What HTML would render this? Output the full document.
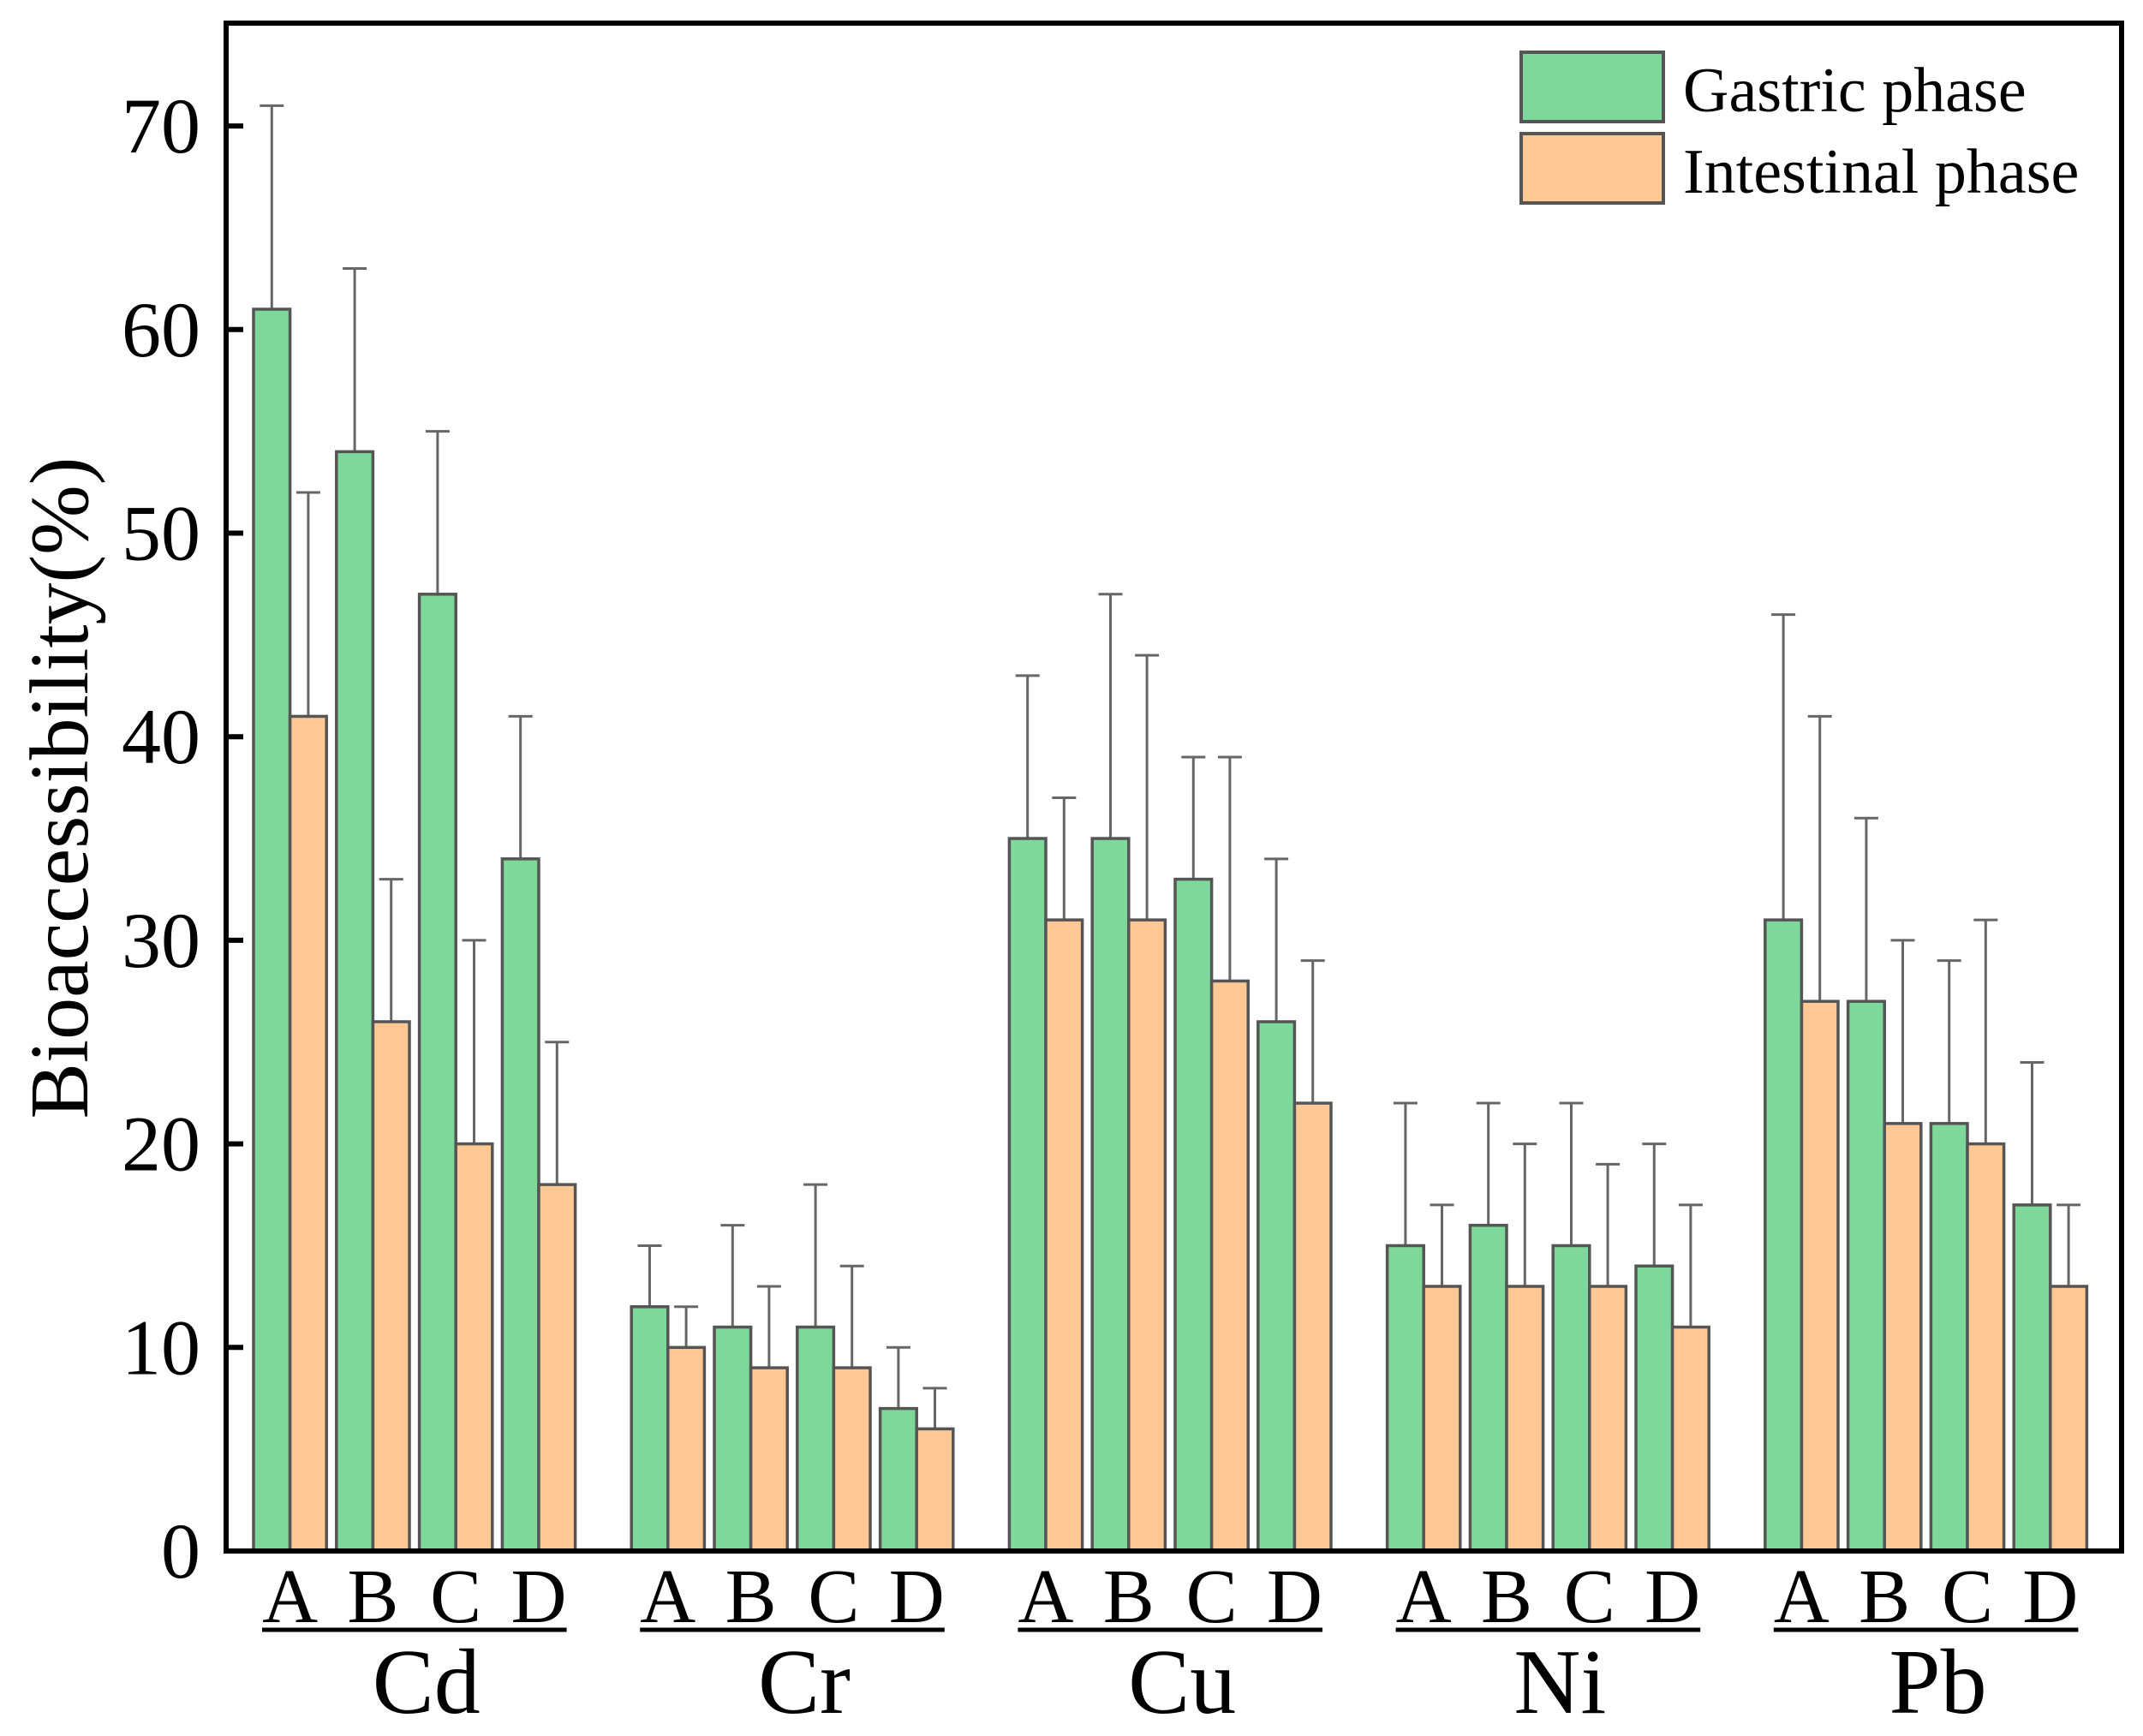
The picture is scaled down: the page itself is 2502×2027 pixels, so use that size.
<!DOCTYPE html>
<html><head><meta charset="utf-8"><style>
html,body{margin:0;padding:0;background:#fff;}
svg{display:block;font-family:"Liberation Serif",serif;}
</style></head><body>
<svg id="chart" width="2502" height="2027" viewBox="0 0 2502 2027" xmlns="http://www.w3.org/2000/svg">
<g id="bars"></g>
<g id="axes"></g>
<g id="legend">
  <rect x="1776" y="61" width="166" height="81" fill="#7fd89b" stroke="#555" stroke-width="4"/>
  <text x="1965" y="130" font-size="74">Gastric phase</text>
  <rect x="1776" y="156" width="166" height="81" fill="#ffc894" stroke="#555" stroke-width="4"/>
  <text x="1965" y="225" font-size="74">Intestinal phase</text>
</g>
<text transform="translate(102,920) rotate(-90)" text-anchor="middle" font-size="98">Bioaccessibility(%)</text>
</svg>
<script>
const elements = ["Cd","Cr","Cu","Ni","Pb"];
const samples = ["A","B","C","D"];
const gastric = [61,54,47,34, 12,11,11,7, 35,35,33,26, 15,16,15,14, 31,27,21,17];
const gastricErrTop = [71,63,55,41, 15,16,18,10, 43,47,39,34, 22,22,22,20, 46,36,29,24];
const intestinal = [41,26,20,18, 10,9,9,6, 31,31,28,22, 13,13,13,11, 27,21,20,13];
const intestinalErrTop = [52,33,30,25, 12,13,14,8, 37,44,39,29, 17,20,19,17, 41,30,31,17];
const yTicks = [0,10,20,30,40,50,60,70];

const NS="http://www.w3.org/2000/svg";
const L=264,R=2477,T=27,B=1811,PPU=23.77;
const y=v=>B-v*PPU;
const BW=42.6, PAIR=96.8, GROUP=441.2, X0=296;
const xOf=(g,s)=>X0+g*GROUP+s*PAIR;
function mk(tag,attrs,parent){const e=document.createElementNS(NS,tag);for(const k in attrs)e.setAttribute(k,attrs[k]);parent.appendChild(e);return e;}
const bars=document.getElementById('bars');
const axes=document.getElementById('axes');

function drawBar(x,v,top,color,name){
  const cx=x+BW/2;
  const eb=mk('g',{},bars);
  
  
  mk('line',{x1:cx,x2:cx,y1:y(v),y2:y(top),stroke:'#666','stroke-width':3},eb);
  mk('line',{x1:cx-14,x2:cx+14,y1:y(top),y2:y(top),stroke:'#666','stroke-width':3},eb);
  const r=mk('rect',{x:x,y:y(v),width:BW,height:v*PPU,fill:color,stroke:'#555','stroke-width':3.5},bars);
  
  
}
elements.forEach((el,g)=>{
  samples.forEach((s,i)=>{
    const k=g*4+i, x=xOf(g,i);
    drawBar(x,gastric[k],gastricErrTop[k],'#7fd89b','bar-'+el+'-'+s+'-gastric');
    drawBar(x+BW,intestinal[k],intestinalErrTop[k],'#ffc894','bar-'+el+'-'+s+'-intestinal');
    const t=mk('text',{x:x+BW,y:1894,'font-size':90,'text-anchor':'middle'},axes);
    t.textContent=s;
    
    
  });
  const gx0=xOf(g,0)+10, gx1=xOf(g,3)+2*BW-10;
  const u=mk('line',{x1:gx0,x2:gx1,y1:1903,y2:1903,stroke:'#000','stroke-width':5},axes);
  
  
  const t=mk('text',{x:(gx0+gx1)/2+14,y:2000,'font-size':108,'text-anchor':'middle'},axes);
  t.textContent=el;
  
  
});
yTicks.forEach(v=>{
  const tk=mk('line',{x1:L,x2:L+20,y1:y(v),y2:y(v),stroke:'#000','stroke-width':6},axes);
  
  
  const t=mk('text',{x:234,y:y(v)+31,'font-size':92,'text-anchor':'end'},axes);
  t.textContent=v;
  
  
});
const frame=mk('rect',{x:L,y:T,width:R-L,height:B-T,fill:'none',stroke:'#000','stroke-width':6},axes);


</script>
</body></html>
